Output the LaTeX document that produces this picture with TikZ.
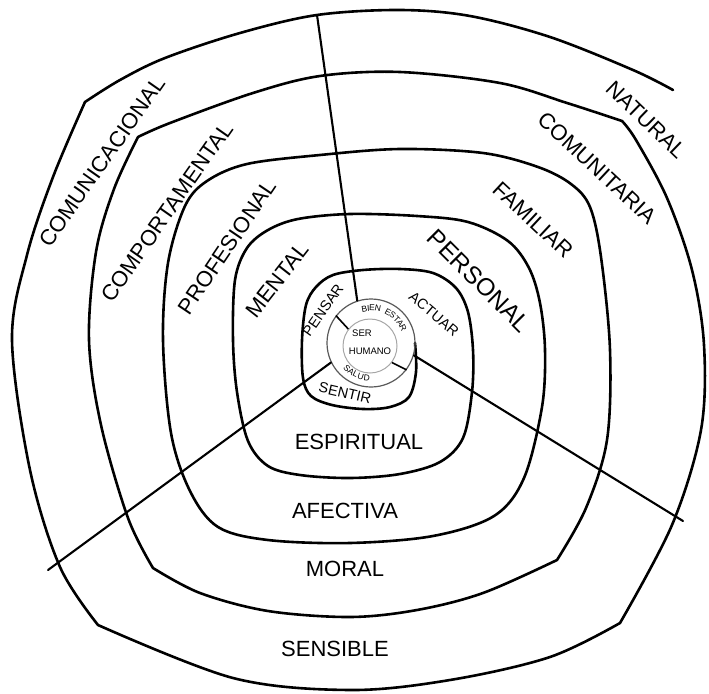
\documentclass[tikz,border=0pt]{standalone}
\usepackage{fontspec}
\setmainfont{Liberation Sans}
\usetikzlibrary{calc}
\begin{document}
\begin{tikzpicture}[x=1pt,y=-1pt]
\tikzset{
  spiral/.style={line width=2.6pt, line join=round, line cap=round},
  ray/.style={line width=2.1pt, line cap=round},
  biglab/.style={font=\fontsize{22}{22}\selectfont, inner sep=0pt},
  hugelab/.style={font=\fontsize{24.5}{24}\selectfont, inner sep=0pt},
  smalllab/.style={font=\fontsize{14.5}{14}\selectfont, inner sep=0pt},
  tinylab/.style={font=\fontsize{8.5}{9}\selectfont, inner sep=0pt},
  corelab/.style={font=\fontsize{9.5}{10}\selectfont, inner sep=0pt},
}
\useasboundingbox (0,0) rectangle (709,693);

% spiral
\draw[spiral]
  plot[smooth, tension=0.55] coordinates {(415,343) (416,372) (409,397) (390,407) (363,409) (332,405) (311,396) (303,378) (302,340) (306,305) (316,287) (333,275) (363,270) (400,269) (433,273) (456,288) (468,312) (473,350) (472,392) (463,438) (440,462) (400,474) (350,478) (300,475) (268,466) (248,441) (237,392) (233,340) (235,280) (247,248) (268,230) (298,219) (350,214) (417,216) (468,222) (508,241) (529,268) (540,303) (545,350) (542,407) (524,478) (494,516) (433,536) (350,543) (268,540) (218,527) (190,491) (171,433) (163,340) (168,263) (185,206) (207,181) (247,164) (320,155) (400,149) (483,153) (538,167) (571,184) (590,207) (601,257) (610,350) (607,440) (586,508) (557,560)}
  -- plot[smooth, tension=0.55] coordinates {(557,560) (483,593) (417,610) (350,617) (268,611) (200,593) (153,568)}
  -- plot[smooth, tension=0.55] coordinates {(153,568) (128,518) (101,425) (89,340) (96,252) (114,189) (138,137)}
  -- plot[smooth, tension=0.55] coordinates {(138,137) (170,123) (253,93) (320,76) (400,72) (500,83) (567,103) (622,121)}
  -- plot[smooth, tension=0.55] coordinates {(622,121) (636,140) (667,198) (692,270) (704,345) (701,430) (672,525) (620,623)}
  -- plot[smooth, tension=0.55] coordinates {(620,623) (550,657) (450,680) (350,690) (233,678) (98,625)}
  -- plot[smooth, tension=0.55] coordinates {(98,625) (60,567) (30,470) (12,340) (27,255) (53,177) (85,102)}
  -- plot[smooth, tension=0.55] coordinates {(85,102) (120,80) (165,58) (240,33) (317,15) (400,10) (470,16) (550,37) (633,70) (673,90)};

% centre circles
\node[circle, draw=black!65, line width=1.2pt, minimum size=88pt, inner sep=0pt] (outer) at (371,343) {};
\node[circle, draw=black!35, line width=1pt, minimum size=54pt, inner sep=0pt] (inner) at (370,346) {};
\draw[line width=1.6pt] (inner.142) -- (outer.142);
\draw[line width=1.6pt] (inner.-37) -- (outer.-37);

% rays
\coordinate (topend) at (317,15);
\coordinate (llend) at (48,570);
\coordinate (lrend) at (683,521);
\draw[ray] (outer.108) -- (topend);
\draw[ray] (outer.206) -- (llend);
\draw[ray] (outer.-16) -- (lrend);

% core text
\node[corelab] (ser) at (362,333) {SER};
\node[corelab] (humano) at (370,351) {HUMANO};
\foreach \ch/\a [count=\i] in {B/100.6, I/94.4, E/88.2, N/79.0, E/61.6, S/52.8, T/44.4, A/36.0, R/26.9}
  \node[tinylab, rotate=\a-90] (be\i) at ({371+36*cos(\a)},{344-36*sin(\a)}) {\ch};
\foreach \ch/\a [count=\i] in {S/-135.1, A/-125.6, L/-116.8, U/-107.6, D/-97.3}
  \node[tinylab, rotate=\a+90] (sa\i) at ({371+34*cos(\a)},{344-34*sin(\a)}) {\ch};

% inner labels
\node[smalllab, rotate=55] (pensar) at (323,310) {PENSAR};
\node[smalllab, rotate=-40] (actuar) at (434,314) {ACTUAR};
\node[smalllab, rotate=-13] (sentir) at (345,393) {SENTIR};

% ring labels
\node[biglab, rotate=52] (mental) at (277,280) {MENTAL};
\node[biglab, rotate=56] (profesional) at (227,247) {PROFESIONAL};
\node[biglab, rotate=55] (comportamental) at (167,212) {COMPORTAMENTAL};
\node[biglab, rotate=55] (comunicacional) at (102,162) {COMUNICACIONAL};
\node[hugelab, rotate=-45] (personal) at (479,281) {PERSONAL};
\node[biglab, rotate=-43] (familiar) at (533,220) {FAMILIAR};
\node[biglab, rotate=-43] (comunitaria) at (597,168) {COMUNITARIA};
\node[biglab, rotate=-44] (natural) at (646,120) {NATURAL};
\node[biglab] (espiritual) at (359,442) {ESPIRITUAL};
\node[biglab] (afectiva) at (345,511) {AFECTIVA};
\node[biglab] (moral) at (345,569) {MORAL};
\node[biglab] (sensible) at (335,649) {SENSIBLE};
\end{tikzpicture}
\end{document}
